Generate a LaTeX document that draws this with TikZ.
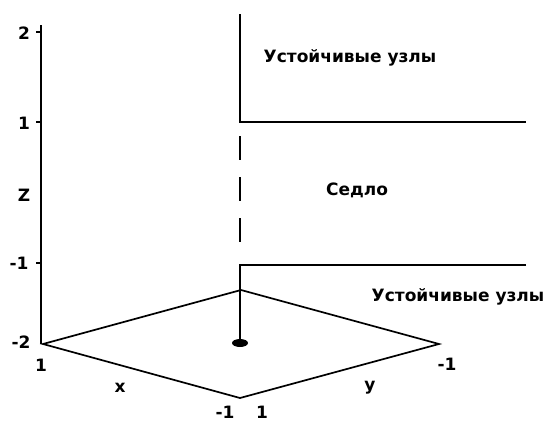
\documentclass[tikz,border=0pt]{standalone}
\usepackage{fontspec}
\setmainfont{DejaVu Sans}
\begin{document}
\begin{tikzpicture}[x=1pt,y=-1pt,
  lbl/.style={font=\bfseries\fontsize{17}{17}\selectfont, inner sep=0pt, text=black},
  axisline/.style={line width=2.2pt, black},
  gridline/.style={line width=1.7pt, black}]
\useasboundingbox (0,0) rectangle (544,421);
% coordinates
\coordinate (ztop) at (41,25);
\coordinate (zbot) at (41,344);
\coordinate (L) at (43,344);
\coordinate (T) at (241,290);
\coordinate (R) at (439,344);
\coordinate (B) at (240,398);
\coordinate (v0) at (240,14);
\coordinate (v1) at (240,122);
\coordinate (h1) at (526,122);
\coordinate (v2) at (240,265);
\coordinate (h2) at (526,265);
\coordinate (vd) at (240,343);
% z axis
\draw[axisline] (ztop) -- (zbot);
\foreach \yy/\nm in {32/t2,122/t1,263/tm1}{
  \draw[axisline] (36,\yy) coordinate (\nm) -- (41,\yy);
}
% diamond
\draw[gridline, line join=miter] (L) -- (T) -- (R) -- (B) -- cycle;
% separatrix lines
\draw[axisline] (v0) -- (v1) -- (h1);
\draw[axisline] (h2) -- (v2) -- (vd);
\foreach \a/\b in {136/160,177/201,218/242}{
  \draw[axisline] (240,\a) -- (240,\b);
}
\fill[black] (vd) ellipse (8 and 4);
% labels
\node[lbl] (l2) at (24,33) {2};
\node[lbl] (l1) at (24,123) {1};
\node[lbl] (lz) at (24,195) {Z};
\node[lbl] (lm1) at (19,263) {-1};
\node[lbl] (lm2) at (21,342) {-2};
\node[lbl] (lx1) at (41,365) {1};
\node[lbl] (lx) at (120,388) {x};
\node[lbl] (ly) at (370,388) {y};
\node[lbl] (lbm1) at (225,412) {-1};
\node[lbl] (lb1) at (262,412) {1};
\node[lbl] (lrm1) at (447,364) {-1};
\node[lbl] (s1) at (350,58) {Устойчивые узлы};
\node[lbl] (s0) at (357,190) {Седло};
\node[lbl] (s2) at (458,297) {Устойчивые узлы};
\end{tikzpicture}
\end{document}
